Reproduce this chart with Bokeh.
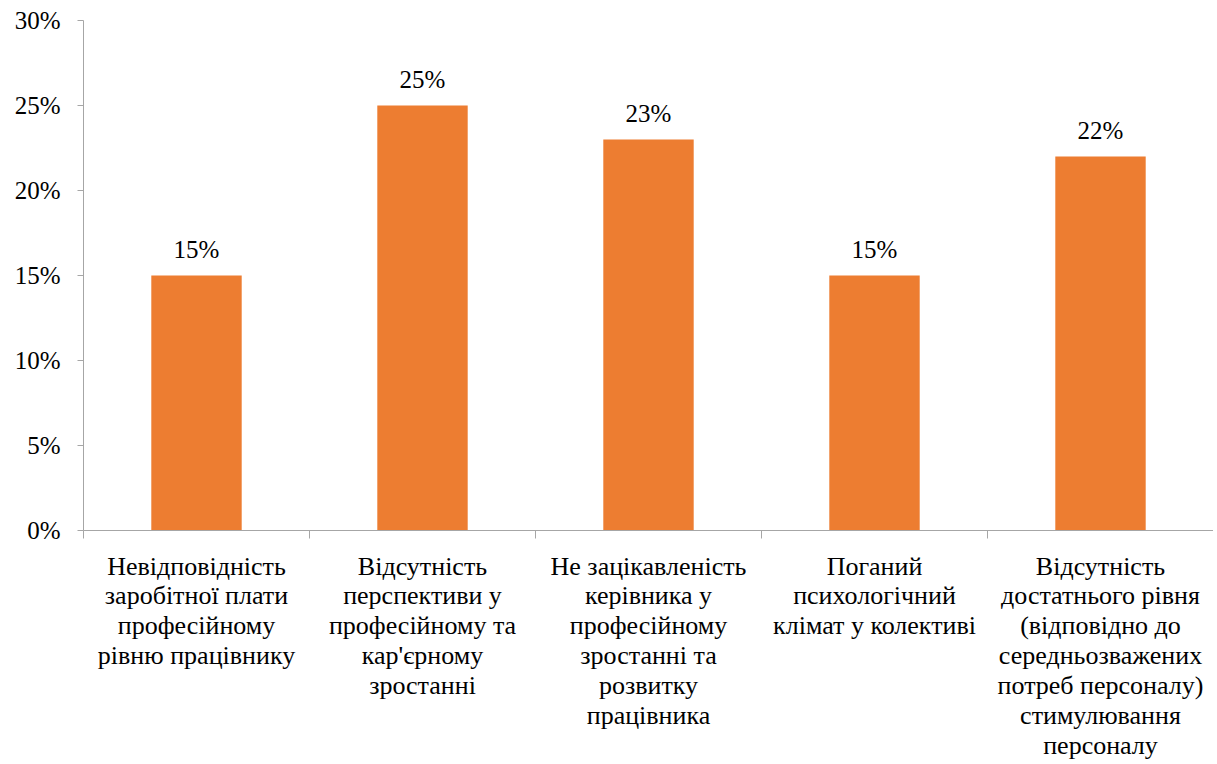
from bokeh.plotting import figure
from bokeh.models import Range1d, FixedTicker, ColumnDataSource, NumeralTickFormatter, LabelSet
from bokeh.embed import file_html
from bokeh.resources import INLINE
import numpy as np

categories = [
    "Невідповідність\nзаробітної плати\nпрофесійному\nрівню працівнику",
    "Відсутність\nперспективи у\nпрофесійному та\nкар'єрному\nзростанні",
    "Не зацікавленість\nкерівника у\nпрофесійному\nзростанні та\nрозвитку\nпрацівника",
    "Поганий\nпсихологічний\nклімат у колективі",
    "Відсутність\nдостатнього рівня\n(відповідно до\nсередньозважених\nпотреб персоналу)\nстимулювання\nперсоналу",
]
values = [0.15, 0.25, 0.23, 0.15, 0.22]
value_labels = ["15%", "25%", "23%", "15%", "22%"]
y_ticks = [0, 0.05, 0.10, 0.15, 0.20, 0.25, 0.30]

n = len(categories)
centers = list(np.arange(n) + 0.5)
src = ColumnDataSource(dict(x=centers, top=values, lab=value_labels))

FONT = "Liberation Serif"
p = figure(width=1213, height=762, output_backend="svg", toolbar_location=None,
           x_range=Range1d(0, n), y_range=Range1d(0, 0.30),
           min_border_left=83, min_border_right=0, min_border_top=20, min_border_bottom=230)
p.outline_line_color = None
p.grid.grid_line_color = None

p.vbar(x="x", top="top", width=0.4, bottom=0, source=src, fill_color="#ED7D31", line_color=None)

labels = LabelSet(x="x", y="top", text="lab", source=src, text_align="center",
                  text_baseline="alphabetic", y_offset=18, text_font=FONT,
                  text_font_size="25px", text_color="#000000")
p.add_layout(labels)

xa = p.xaxis[0]
xa.ticker = FixedTicker(ticks=centers, minor_ticks=list(range(n + 1)))
xa.major_label_overrides = {c: lab for c, lab in zip(centers, categories)}
xa.major_tick_out = 0
xa.major_tick_in = 0
xa.minor_tick_out = 8
xa.minor_tick_in = 0
xa.minor_tick_line_color = "#A6A6A6"
xa.axis_line_color = "#A6A6A6"
xa.major_label_text_font = FONT
xa.major_label_text_font_size = "26px"
xa.major_label_text_line_height = 1.03
xa.major_label_text_color = "#000000"
xa.major_label_standoff = 13
xa.major_label_orientation = "horizontal"

ya = p.yaxis[0]
ya.ticker = FixedTicker(ticks=y_ticks)
ya.formatter = NumeralTickFormatter(format="0%")
ya.major_tick_out = 6
ya.major_tick_in = 0
ya.minor_tick_out = 0
ya.minor_tick_in = 0
ya.major_tick_line_color = "#A6A6A6"
ya.axis_line_color = "#A6A6A6"
ya.major_label_text_font = FONT
ya.major_label_text_font_size = "25px"
ya.major_label_text_color = "#000000"
ya.major_label_standoff = 17

open("out.html", "w").write(file_html(p, INLINE))
